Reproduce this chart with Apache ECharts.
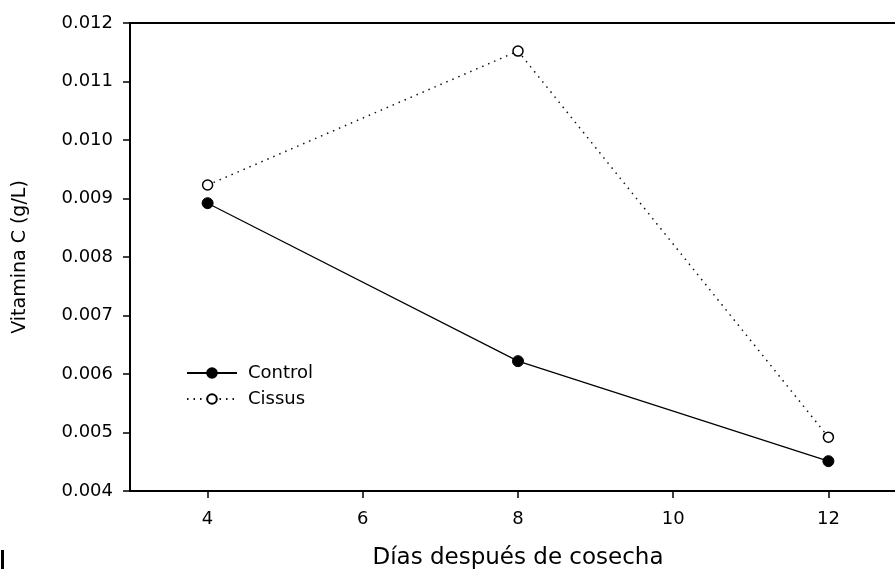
<!DOCTYPE html>
<html>
<head>
<meta charset="utf-8">
<script src="https://cdn.jsdelivr.net/npm/echarts@6/dist/echarts.min.js"></script>
<style>
  html, body { margin: 0; padding: 0; background: #fff; }
  #chart { width: 895px; height: 569px; }
</style>
</head>
<body>
<div id="chart"></div>
<script>
// Days after harvest and vitamin C content (g/L) for each treatment
const days = [4, 8, 12];
const control = [0.00892, 0.00622, 0.00451];
const cissus = [0.00923, 0.01152, 0.00492];
const xTicks = [4, 6, 8, 10, 12];

const chart = echarts.init(document.getElementById('chart'));
const font = 'DejaVu Sans';

chart.setOption({
  backgroundColor: '#fff',
  animation: false,
  grid: {
    left: 130, top: 23, height: 468, width: 776,
    outerBoundsMode: 'none',
    show: true, borderColor: '#000', borderWidth: 2, backgroundColor: 'transparent'
  },
  legend: {
    orient: 'vertical',
    left: 186, top: 364, padding: 0,
    itemWidth: 50, itemHeight: 12, itemGap: 8,
    textStyle: { fontFamily: font, fontSize: 18, lineHeight: 14, color: '#000', padding: [0, 0, 0, 6] },
    data: ['Control', 'Cissus']
  },
  xAxis: {
    type: 'value',
    min: 3, max: 13,
    name: 'Días después de cosecha',
    nameLocation: 'middle',
    nameGap: 56,
    nameTextStyle: { fontFamily: font, fontSize: 23, color: '#000' },
    axisLine: { lineStyle: { color: '#000', width: 2 } },
    axisTick: { inside: false, length: 7, lineStyle: { color: '#000', width: 1.5 }, customValues: xTicks },
    axisLabel: { fontFamily: font, fontSize: 18, color: '#000', margin: 19, customValues: xTicks },
    splitLine: { show: false }
  },
  yAxis: {
    type: 'value',
    min: 0.004, max: 0.012, interval: 0.001,
    name: 'Vitamina C (g/L)',
    nameLocation: 'middle',
    nameRotate: 90,
    nameGap: 100,
    nameTextStyle: { fontFamily: font, fontSize: 19, color: '#000' },
    axisLine: { show: true, lineStyle: { color: '#000', width: 2 } },
    axisTick: { show: true, inside: false, length: 7, lineStyle: { color: '#000', width: 1.5 } },
    axisLabel: {
      fontFamily: font, fontSize: 18, color: '#000', margin: 17,
      formatter: v => v.toFixed(3)
    },
    splitLine: { show: false }
  },
  series: [
    {
      name: 'Control',
      type: 'line',
      data: days.map((d, i) => [d, control[i]]),
      symbol: 'circle',
      symbolSize: 11,
      lineStyle: { color: '#000', width: 1.2 },
      itemStyle: { color: '#000', borderColor: '#000', borderWidth: 1 }
    },
    {
      name: 'Cissus',
      type: 'line',
      data: days.map((d, i) => [d, cissus[i]]),
      symbol: 'circle',
      symbolSize: 10,
      lineStyle: { color: '#111', width: 1.5, type: [1.5, 5] },
      itemStyle: { color: '#fff', borderColor: '#000', borderWidth: 1.5 }
    }
  ],
  graphic: [
    { type: 'rect', left: 1, top: 550, shape: { width: 3, height: 19 }, style: { fill: '#000' } }
  ]
});
</script>
</body>
</html>
